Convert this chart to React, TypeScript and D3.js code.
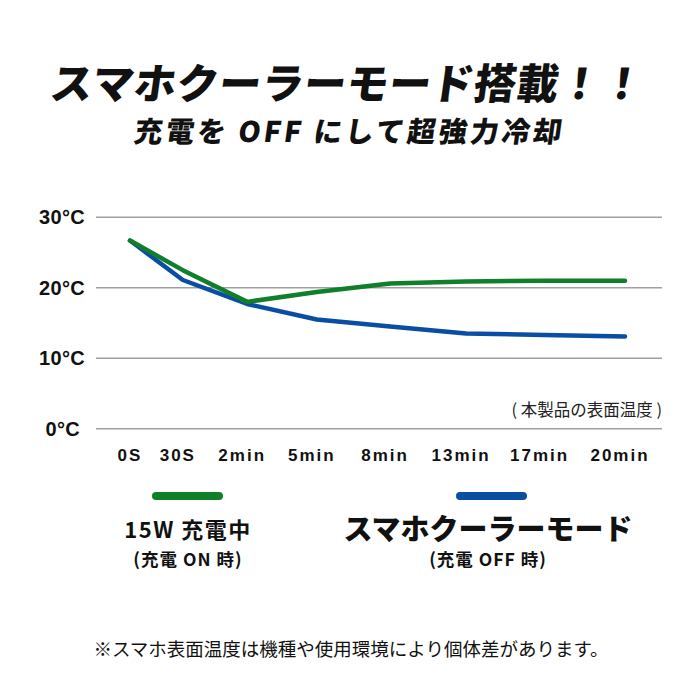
import * as d3 from "d3";

// Chart data
const CATEGORIES = ["0S", "30S", "2min", "5min", "8min", "13min", "17min", "20min"];
const CHARGING = [26.7, 22.5, 18.0, 19.4, 20.6, 20.9, 21.0, 21.0];
const COOLER = [26.7, 21.1, 17.7, 15.5, 14.5, 13.5, 13.3, 13.1];
const Y_TICKS = [0, 10, 20, 30];

const GREEN = "#0f7f2a";
const BLUE = "#0a4ea4";
const FONT = "'Noto Sans CJK JP', 'Noto Sans', sans-serif";
const LATIN = "'Liberation Sans', Arial, sans-serif";

export default function App() {
  const W = 700;
  const H = 700;
  const left = 96;
  const right = 662;

  // category positions are spread a bit wider toward the end
  const idx = d3.scalePow().exponent(1.15).domain([0, CATEGORIES.length - 1]).range([130, 625]);
  const y = d3.scaleLinear().domain([0, 30]).range([428.7, 217.3]);

  const line = d3
    .line<number>()
    .x((_, i) => idx(i))
    .y((d) => y(d))
    .curve(d3.curveLinear);

  return (
    <svg
      width={W}
      height={H}
      style={{ position: "absolute", left: 0, top: 0, background: "#fff" }}
      fontFamily={FONT}
    >
      {/* Titles */}
      <g transform="translate(348,81) skewX(-8)">
        <text textAnchor="middle" dominantBaseline="central" fontSize={42} fontWeight={900} letterSpacing={0.5} fill="#111">
          スマホクーラーモード搭載！！
        </text>
      </g>
      <g transform="translate(350,130) skewX(-8)">
        <text textAnchor="middle" dominantBaseline="central" fontSize={28.5} fontWeight={900} letterSpacing={3} fill="#111">
          充電を OFF にして超強力冷却
        </text>
      </g>

      {/* Gridlines + y labels */}
      {Y_TICKS.map((t) => (
        <g key={t}>
          <line x1={left} x2={right} y1={y(t)} y2={y(t)} stroke="#a0a0a0" strokeWidth={1.5} />
          <text
            x={t === 0 ? 80 : 85}
            y={y(t)}
            textAnchor="end"
            dominantBaseline="central"
            fontSize={20}
            fontWeight={700}
            letterSpacing={0.3}
            fill="#111"
            fontFamily={LATIN}
          >
            {t}°C
          </text>
        </g>
      ))}

      <text x={662} y={409} textAnchor="end" dominantBaseline="central" fontSize={16.5} fill="#222">
        ( 本製品の表面温度 )
      </text>

      {/* x labels */}
      {CATEGORIES.map((c, i) => (
        <text
          key={c}
          x={i === 0 ? idx(i) : idx(i) - 5}
          y={455}
          textAnchor="middle"
          dominantBaseline="central"
          fontSize={17}
          fontWeight={700}
          letterSpacing={2}
          fill="#111"
          fontFamily={LATIN}
        >
          {c}
        </text>
      ))}

      {/* Series */}
      <path d={line(COOLER) ?? ""} fill="none" stroke={BLUE} strokeWidth={4.5} strokeLinecap="round" strokeLinejoin="round" />
      <path d={line(CHARGING) ?? ""} fill="none" stroke={GREEN} strokeWidth={4.5} strokeLinecap="round" strokeLinejoin="round" />

      {/* Legend */}
      <rect x={152} y={492} width={71} height={8} rx={4} fill={GREEN} />
      <rect x={456} y={492} width={71} height={8} rx={4} fill={BLUE} />

      <text x={188} y={528} textAnchor="middle" dominantBaseline="central" fontSize={22} fontWeight={700} letterSpacing={1.5} fill="#111">
        15W 充電中
      </text>
      <text x={188} y={558} textAnchor="middle" dominantBaseline="central" fontSize={17.5} fontWeight={700} letterSpacing={1} fill="#111">
        (充電 ON 時)
      </text>
      <text x={488} y={527} textAnchor="middle" dominantBaseline="central" fontSize={29} fontWeight={900} fill="#111">
        スマホクーラーモード
      </text>
      <text x={488} y={558} textAnchor="middle" dominantBaseline="central" fontSize={17.5} fontWeight={700} letterSpacing={1} fill="#111">
        (充電 OFF 時)
      </text>

      {/* Footnote */}
      <text x={351} y={648} textAnchor="middle" dominantBaseline="central" fontSize={18.5} fill="#111">
        ※スマホ表面温度は機種や使用環境により個体差があります。
      </text>
    </svg>
  );
}
